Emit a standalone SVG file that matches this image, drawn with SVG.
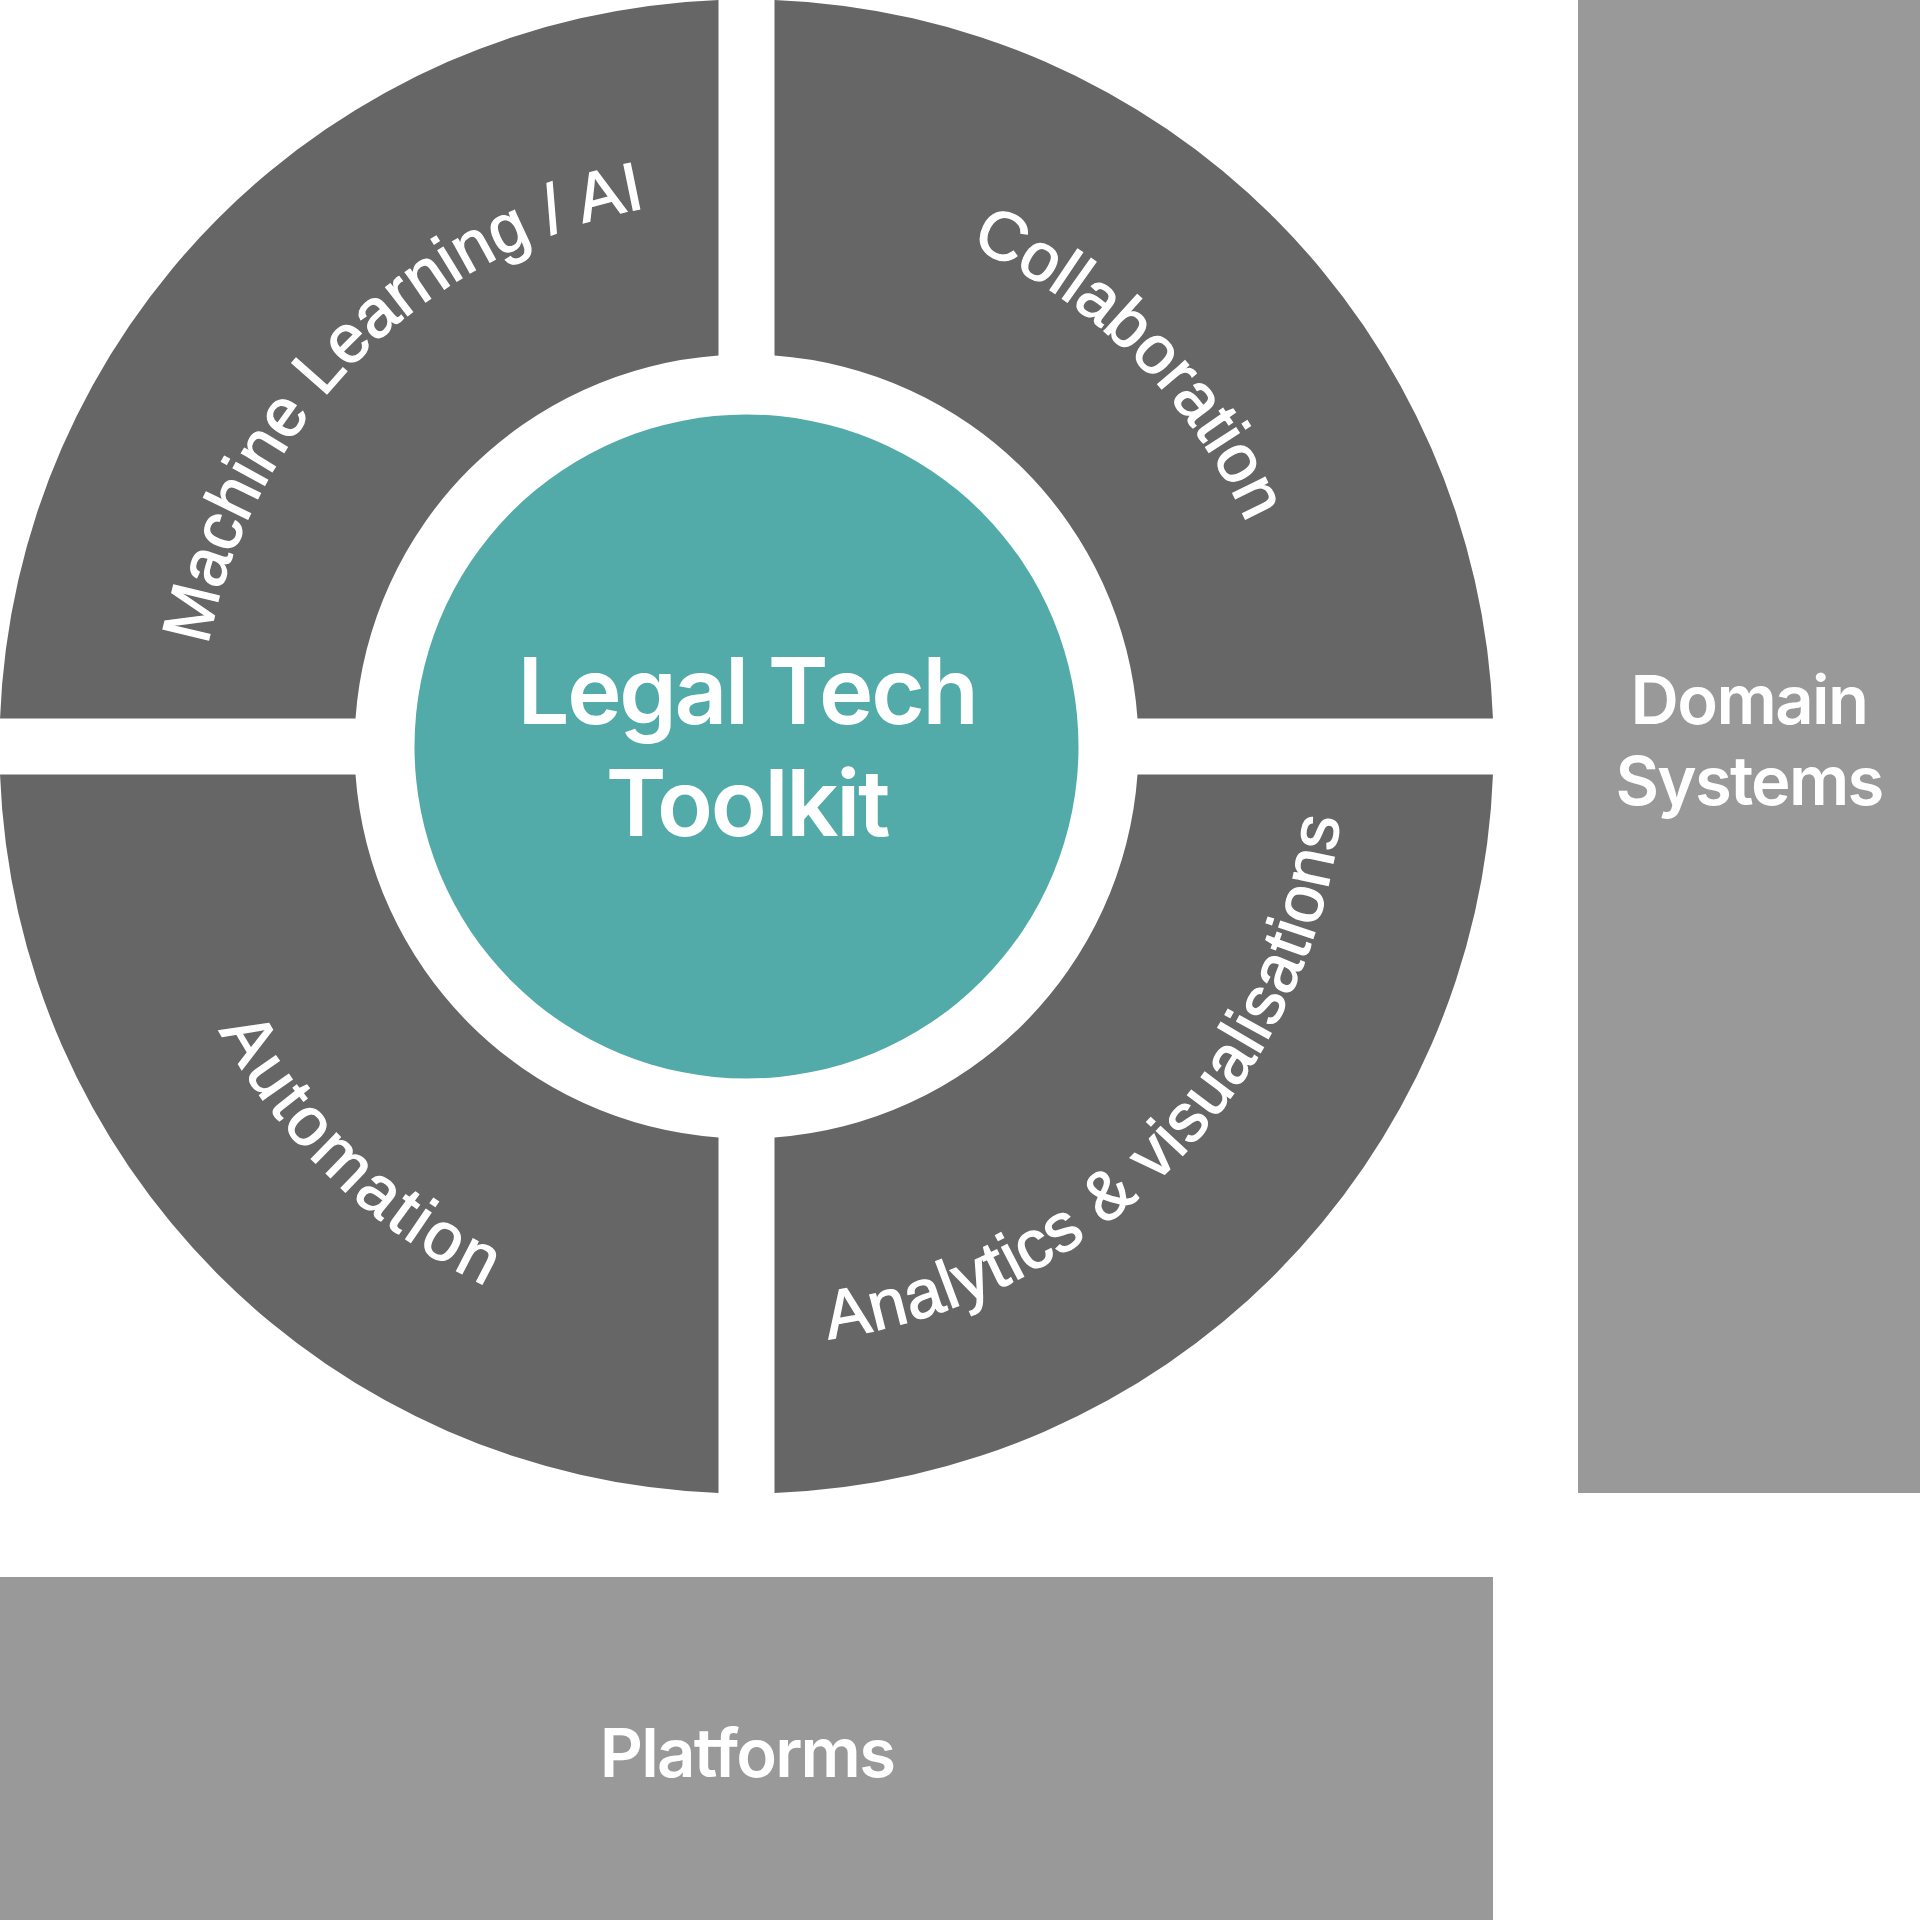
<svg xmlns="http://www.w3.org/2000/svg" width="1920" height="1920" viewBox="0 0 1920 1920">
<style>
.q{fill:#666666}
.box{fill:#999999}
.arc{font-family:"Liberation Sans",Arial,sans-serif;font-size:68px;fill:#ffffff;stroke:#ffffff;stroke-width:1.3px}
.lbl{font-family:Inter,"Liberation Sans",sans-serif;font-weight:600;fill:#ffffff;text-anchor:middle}
</style>
<defs>
<path id="pTL" d="M 359,1134 A 548 548 0 0 1 1134,359"/>
<path id="pTR" d="M 359,359 A 548 548 0 0 1 1134,1134"/>
<path id="pBL" d="M 322.94,322.94 A 599 599 0 0 0 1170.06,1170.06"/>
<path id="pBR" d="M 323.65,1169.35 A 598 598 0 0 0 1169.35,323.65"/>
</defs>
<rect width="1920" height="1920" fill="#ffffff"/>
<g id="domain-systems">
<rect class="box" x="1578" y="0" width="342" height="1493"/>
<text class="lbl" font-size="67" letter-spacing="-1.6" x="1749" y="724">Domain</text>
<text class="lbl" font-size="67" letter-spacing="-1.8" x="1749" y="805">Systems</text>
</g>
<g id="platforms">
<rect class="box" x="0" y="1577" width="1493" height="343"/>
<text class="lbl" font-size="67" letter-spacing="-1.8" x="747" y="1777">Platforms</text>
</g>
<g id="ml-ai">
<path class="q" d="M 0.03,718.5 A 747 747 0 0 1 718.5,0.03 L 718.5,355.5 A 392 392 0 0 0 355.5,718.5 Z"/>
<text class="arc"><textPath href="#pTL" startOffset="50%" text-anchor="middle">Machine Learning / AI</textPath></text>
</g>
<g id="collaboration">
<path class="q" d="M 774.5,0.03 A 747 747 0 0 1 1492.97,718.5 L 1137.5,718.5 A 392 392 0 0 0 774.5,355.5 Z"/>
<text class="arc"><textPath href="#pTR" startOffset="50%" text-anchor="middle">Collaboration</textPath></text>
</g>
<g id="analytics">
<path class="q" d="M 1492.97,774.5 A 747 747 0 0 1 774.5,1492.97 L 774.5,1137.5 A 392 392 0 0 0 1137.5,774.5 Z"/>
<text class="arc" letter-spacing="1"><textPath href="#pBR" startOffset="50.3%" text-anchor="middle">Analytics &amp; visualisations</textPath></text>
</g>
<g id="automation">
<path class="q" d="M 718.5,1492.97 A 747 747 0 0 1 0.03,774.5 L 355.5,774.5 A 392 392 0 0 0 718.5,1137.5 Z"/>
<text class="arc" letter-spacing="3.5"><textPath href="#pBL" startOffset="50.8%" text-anchor="middle">Automation</textPath></text>
</g>
<g id="legal-tech-toolkit">
<circle cx="746.5" cy="746.5" r="332" fill="#52aba9"/>
<text class="lbl" font-size="92" letter-spacing="-2.3" x="747" y="724">Legal Tech</text>
<text class="lbl" font-size="92" letter-spacing="-2.3" x="747" y="836">Toolkit</text>
</g>
<g id="connectors"/>
</svg>
